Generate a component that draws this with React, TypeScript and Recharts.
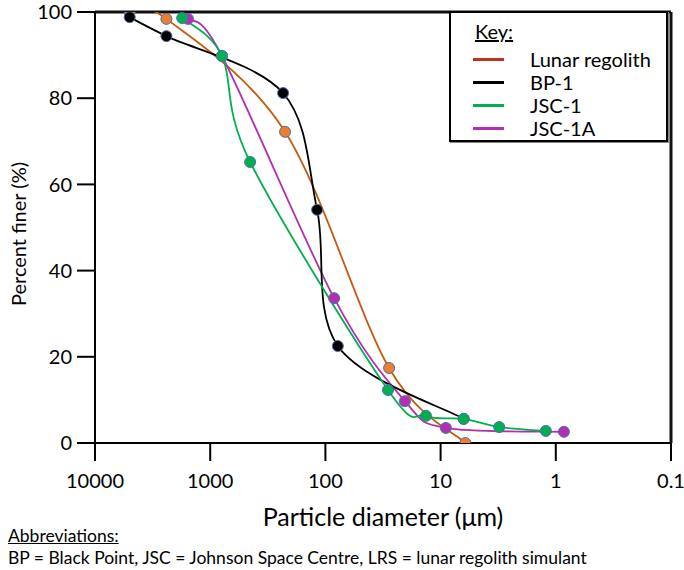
import React from "react";
import { LineChart, Line, XAxis, YAxis, ReferenceLine } from "recharts";

// particle size (µm) and percent finer for each sample
const LUNAR_SIZE = [5000, 2400, 224, 28, 6.1];
const LUNAR_PCT = [100, 98.4, 72.2, 17.4, 0];
const BP1_SIZE = [5000, 2400, 233, 118, 78, 6.3];
const BP1_PCT = [98.8, 94.4, 81.2, 54.1, 22.5, 5.6];
const JSC1_SIZE = [1750, 790, 450, 28.6, 13.4, 6.3, 3.1, 1.22];
const JSC1_PCT = [98.6, 89.8, 65.2, 12.3, 6.3, 5.6, 3.7, 2.8];
const JSC1A_SIZE = [1560, 790, 84, 20.4, 9, 0.85];
const JSC1A_PCT = [98.4, 89.8, 33.6, 9.7, 3.5, 2.6];

const X_TICKS = [10000, 1000, 100, 10, 1, 0.1];
const Y_TICKS = [0, 20, 40, 60, 80, 100];

const FONT = "Lato, 'Open Sans', sans-serif";

const toRows = (sizes: number[], pct: number[]) =>
  sizes.map((d, i) => ({ d, p: pct[i] }));

const SERIES = [
  { name: "Lunar regolith", data: toRows(LUNAR_SIZE, LUNAR_PCT), line: "#c55a11", marker: "#ed7d31", key: "#c1301f" },
  { name: "BP-1", data: toRows(BP1_SIZE, BP1_PCT), line: "#000000", marker: "#000000", key: "#000000" },
  { name: "JSC-1", data: toRows(JSC1_SIZE, JSC1_PCT), line: "#00b050", marker: "#00b050", key: "#00b050" },
  { name: "JSC-1A", data: toRows(JSC1A_SIZE, JSC1A_PCT), line: "#b22fb4", marker: "#b22fb4", key: "#b22fb4" },
];

// draw order: magenta under black and green, like the original
const DRAW_ORDER = [0, 3, 1, 2];

// Excel-like smoothed line (Catmull-Rom through the points)
function smoothCurve(context: any) {
  let pts: number[][] = [];
  return {
    areaStart() {},
    areaEnd() {},
    lineStart() {
      pts = [];
    },
    point(x: number, y: number) {
      pts.push([+x, +y]);
    },
    lineEnd() {
      const n = pts.length;
      if (!n) return;
      context.moveTo(pts[0][0], pts[0][1]);
      for (let i = 0; i < n - 1; i++) {
        const p0 = pts[i - 1] || pts[i];
        const p1 = pts[i];
        const p2 = pts[i + 1];
        const p3 = pts[i + 2] || p2;
        context.bezierCurveTo(
          p1[0] + (p2[0] - p0[0]) / 6,
          p1[1] + (p2[1] - p0[1]) / 6,
          p2[0] - (p3[0] - p1[0]) / 6,
          p2[1] - (p3[1] - p1[1]) / 6,
          p2[0],
          p2[1]
        );
      }
    },
  };
}

export default function App() {
  return (
    <div style={{ position: "absolute", left: 0, top: 0, width: 684, height: 570, background: "#fff", fontFamily: FONT, color: "#000", overflow: "hidden" }}>
      <LineChart width={684} height={570} margin={{ top: 12, right: 13, left: 0, bottom: 67 }}>
        <XAxis
          type="number"
          dataKey="d"
          scale="log"
          domain={[0.1, 10000]}
          reversed
          ticks={X_TICKS}
          interval={0}
          allowDataOverflow
          tickFormatter={(v) => String(v)}
          tickSize={18}
          tickMargin={13}
          height={60}
          axisLine={{ stroke: "#000", strokeWidth: 2 }}
          tickLine={{ stroke: "#000", strokeWidth: 2 }}
          tick={{ fill: "#000", fontSize: 20, fontFamily: FONT }}
        />
        <YAxis
          type="number"
          dataKey="p"
          domain={[0, 100]}
          ticks={Y_TICKS}
          interval={0}
          allowDataOverflow
          width={95}
          tickSize={18}
          tickMargin={5}
          axisLine={{ stroke: "#000", strokeWidth: 2 }}
          tickLine={{ stroke: "#000", strokeWidth: 2 }}
          tick={{ fill: "#000", fontSize: 20, fontFamily: FONT }}
        />
        <ReferenceLine y={100} stroke="#111" strokeWidth={3} />
        <ReferenceLine x={0.1} stroke="#111" strokeWidth={3} />
        {DRAW_ORDER.map((i) => {
          const s = SERIES[i];
          return (
            <Line
              key={s.name}
              name={s.name}
              data={s.data}
              dataKey="p"
              type={smoothCurve as any}
              stroke={s.line}
              strokeWidth={1.8}
              dot={{ r: 5.5, fill: s.marker, stroke: "#4f6fa8", strokeWidth: 1, fillOpacity: 1 }}
              activeDot={false}
              isAnimationActive={false}
            />
          );
        })}
      </LineChart>

      {/* key box */}
      <div
        style={{
          position: "absolute",
          left: 449,
          top: 11,
          width: 215,
          height: 127,
          border: "2px solid #000",
          boxShadow: "1px 1px 0 #888",
          background: "#fff",
          fontSize: 20,
        }}
      >
        <div style={{ position: "absolute", left: 24, top: 6, textDecoration: "underline", lineHeight: "24px" }}>Key:</div>
        {SERIES.map((s, i) => (
          <div key={s.name} style={{ position: "absolute", left: 0, top: 34 + i * 23, height: 24, width: 215 }}>
            <div style={{ position: "absolute", left: 22, top: 11, width: 31, height: 3, background: s.key }} />
            <div style={{ position: "absolute", left: 79, top: 0, lineHeight: "24px", whiteSpace: "nowrap" }}>{s.name}</div>
          </div>
        ))}
      </div>

      {/* axis titles */}
      <div
        style={{
          position: "absolute",
          left: 18,
          top: 234,
          transform: "translate(-50%, -50%) rotate(-90deg)",
          whiteSpace: "nowrap",
          fontSize: 20,
          lineHeight: "24px",
        }}
      >
        Percent finer (%)
      </div>
      <div
        style={{
          position: "absolute",
          left: 383,
          top: 516,
          transform: "translate(-50%, -50%)",
          whiteSpace: "nowrap",
          fontSize: 25,
          lineHeight: "28px",
        }}
      >
        Particle diameter (μm)
      </div>

      {/* footnote */}
      <div style={{ position: "absolute", left: 8, top: 525, fontSize: 17.5, lineHeight: "22px", whiteSpace: "nowrap" }}>
        <div style={{ textDecoration: "underline" }}>Abbreviations:</div>
        <div>BP = Black Point, JSC = Johnson Space Centre, LRS = lunar regolith simulant</div>
      </div>
    </div>
  );
}
